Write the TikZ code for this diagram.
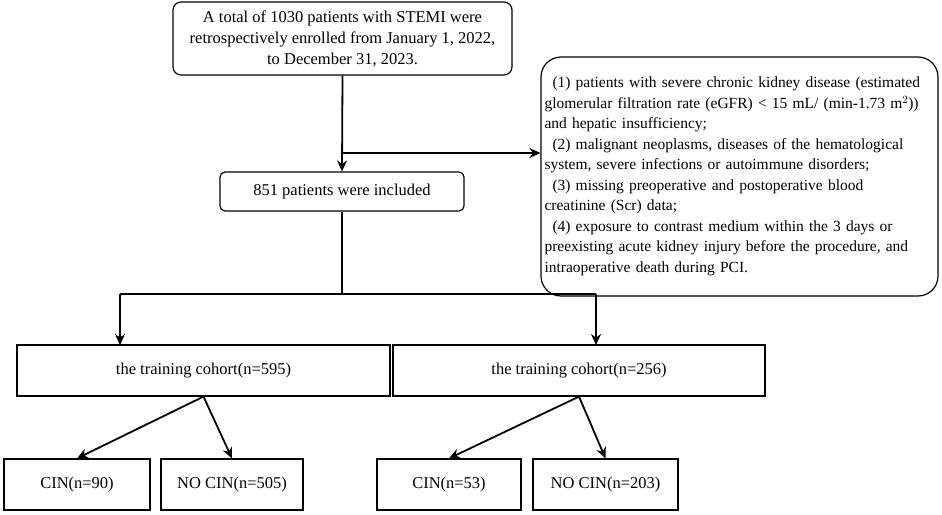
\documentclass[tikz,border=0pt]{standalone}
\usepackage{fontspec}
\setmainfont{Liberation Serif}
\usetikzlibrary{arrows.meta}
\begin{document}
\begin{tikzpicture}[x=1pt,y=-1pt,
 box/.style={draw,line width=1.2pt,inner sep=0pt,font=\fontsize{16.5}{21}\selectfont},
 arr/.style={line width=1.8pt,-{Stealth[length=11pt,width=10pt]}},
 ln/.style={line width=1.8pt}]
\useasboundingbox (0,0) rectangle (942,514);
\node[box,rounded corners=8pt,minimum width=339pt,minimum height=73pt,align=center] (top) at (342.5,38.5)
 {A total of 1030 patients with STEMI were\\retrospectively enrolled from January 1, 2022,\\to December 31, 2023.};
\node[box,rounded corners=20pt,minimum width=397pt,minimum height=239pt,align=left,text width=390pt,font=\fontsize{15.5}{20.5}\selectfont] (ex) at (739.5,176.5)
 {\hspace*{8pt}(1) patients with severe chronic kidney disease (estimated\\glomerular filtration rate (eGFR) < 15 mL/ (min-1.73 m$^2$))\\and hepatic insufficiency;\\
 \hspace*{8pt}(2) malignant neoplasms, diseases of the hematological\\system, severe infections or autoimmune disorders;\\
 \hspace*{8pt}(3) missing preoperative and postoperative blood\\creatinine (Scr) data;\\
 \hspace*{8pt}(4) exposure to contrast medium within the 3 days or\\preexisting acute kidney injury before the procedure, and\\intraoperative death during PCI.};
\node[box,rounded corners=5pt,minimum width=244pt,minimum height=39pt] (inc) at (342,191.5) {851 patients were included};
\node[box,minimum width=373pt,minimum height=51pt] (tl) at (203.5,370.5) {the training cohort(n=595)};
\node[box,minimum width=372pt,minimum height=51pt] (tr) at (579,370.5) {the training cohort(n=256)};
\node[box,minimum width=146pt,minimum height=51pt] (c1) at (77,484.5) {CIN(n=90)};
\node[box,minimum width=142pt,minimum height=51pt] (n1) at (232,484.5) {NO CIN(n=505)};
\node[box,minimum width=144pt,minimum height=51pt] (c2) at (449,484.5) {CIN(n=53)};
\node[box,minimum width=145pt,minimum height=51pt] (n2) at (605.5,484.5) {NO CIN(n=203)};
\coordinate (m) at (342.5,153);
\draw[arr] (top.south) -- (inc.north);
\draw[arr] (m) -- (ex.west|-m);
\coordinate (j) at (342,294);
\draw[ln] (inc.south) -- (j);
\draw[ln] (120,294) -- (596,294);
\draw[arr] (120,294) -- (120,345);
\draw[arr] (596,294) -- (596,345);
\draw[arr] (tl.south) -- (c1.north);
\draw[arr] (tl.south) -- (n1.north);
\draw[arr] (tr.south) -- (c2.north);
\draw[arr] (tr.south) -- (n2.north);
\end{tikzpicture}
\end{document}
